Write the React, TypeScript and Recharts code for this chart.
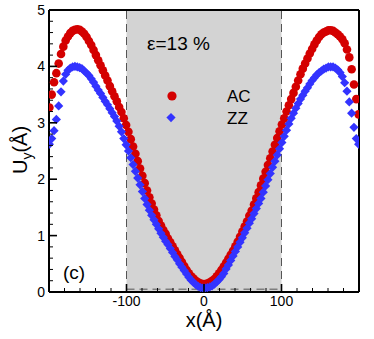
import React from "react";
import {
  ScatterChart,
  Scatter,
  XAxis,
  YAxis,
  ReferenceArea,
  ReferenceLine,
  Legend,
} from "recharts";

// x positions (Å) shared by both series
const xPos = [
  -199.5, -196.5, -193.5, -190.5, -187.5, -184.5, -181.5, -178.5, -175.5, -172.5, -169.5, -166.5, -163.5,
  -160.5, -157.5, -154.5, -151.5, -148.5, -145.5, -142.5, -139.5, -136.5, -133.5, -130.5, -127.5, -124.5,
  -121.5, -118.5, -115.5, -112.5, -109.5, -106.5, -103.5, -100.5, -97.5, -94.5, -91.5, -88.5, -85.5, -82.5,
  -79.5, -76.5, -73.5, -70.5, -67.5, -64.5, -61.5, -58.5, -55.5, -52.5, -49.5, -46.5, -43.5, -40.5, -37.5,
  -34.5, -31.5, -28.5, -25.5, -22.5, -19.5, -16.5, -13.5, -10.5, -7.5, -4.5, -1.5,
  1.5, 4.5, 7.5, 10.5, 13.5, 16.5, 19.5, 22.5, 25.5, 28.5, 31.5, 34.5, 37.5, 40.5, 43.5, 46.5, 49.5, 52.5,
  55.5, 58.5, 61.5, 64.5, 67.5, 70.5, 73.5, 76.5, 79.5, 82.5, 85.5, 88.5, 91.5, 94.5, 97.5, 100.5, 103.5,
  106.5, 109.5, 112.5, 115.5, 118.5, 121.5, 124.5, 127.5, 130.5, 133.5, 136.5, 139.5, 142.5, 145.5, 148.5,
  151.5, 154.5, 157.5, 160.5, 163.5, 166.5, 169.5, 172.5, 175.5, 178.5, 181.5, 184.5, 187.5, 190.5, 193.5,
  196.5, 199.5,
];

// U_y for the armchair (AC) sample
const acY = [
  3.27, 3.5, 3.72, 3.88, 4.05, 4.22, 4.35, 4.46, 4.53, 4.59, 4.63, 4.65, 4.66, 4.65, 4.62, 4.58, 4.52,
  4.45, 4.38, 4.29, 4.2, 4.11, 4.02, 3.93, 3.84, 3.75, 3.65, 3.56, 3.47, 3.38, 3.28, 3.19, 3.08, 2.96,
  2.84, 2.71, 2.58, 2.45, 2.32, 2.19, 2.06, 1.93, 1.8, 1.68, 1.57, 1.46, 1.36, 1.26, 1.18, 1.1, 1.03,
  0.95, 0.88, 0.81, 0.74, 0.67, 0.6, 0.53, 0.46, 0.39, 0.33, 0.28, 0.24, 0.2, 0.17, 0.15, 0.14,
  0.14, 0.15, 0.17, 0.2, 0.23, 0.28, 0.33, 0.39, 0.45, 0.52, 0.59, 0.66, 0.73, 0.81, 0.89, 0.98, 1.07,
  1.16, 1.25, 1.35, 1.44, 1.55, 1.66, 1.77, 1.89, 2.01, 2.13, 2.25, 2.37, 2.49, 2.61, 2.73, 2.85, 2.97,
  3.08, 3.2, 3.31, 3.42, 3.53, 3.64, 3.75, 3.86, 3.96, 4.05, 4.14, 4.23, 4.31, 4.39, 4.46, 4.52, 4.57,
  4.6, 4.62, 4.64, 4.64, 4.63, 4.6, 4.57, 4.53, 4.48, 4.41, 4.3, 4.16, 3.95, 3.68, 3.42, 3.15,
];

// U_y for the zigzag (ZZ) sample
const zzY = [
  2.62, 2.72, 2.86, 3.06, 3.3, 3.55, 3.74, 3.86, 3.93, 3.97, 3.99, 4.0, 3.99, 3.98, 3.96, 3.92, 3.88,
  3.84, 3.78, 3.72, 3.65, 3.58, 3.52, 3.45, 3.38, 3.32, 3.25, 3.18, 3.11, 3.03, 2.94, 2.84, 2.72, 2.61,
  2.5, 2.38, 2.26, 2.14, 2.02, 1.9, 1.78, 1.66, 1.55, 1.45, 1.36, 1.28, 1.2, 1.12, 1.04, 0.97, 0.9,
  0.84, 0.77, 0.7, 0.63, 0.57, 0.5, 0.44, 0.38, 0.32, 0.26, 0.21, 0.17, 0.13, 0.1, 0.08, 0.07,
  0.07, 0.08, 0.09, 0.11, 0.14, 0.18, 0.22, 0.27, 0.33, 0.41, 0.48, 0.56, 0.64, 0.72, 0.8, 0.88, 0.96,
  1.05, 1.13, 1.22, 1.3, 1.39, 1.48, 1.57, 1.66, 1.77, 1.88, 1.99, 2.1, 2.21, 2.32, 2.43, 2.54, 2.65,
  2.76, 2.87, 2.98, 3.08, 3.17, 3.26, 3.34, 3.42, 3.49, 3.56, 3.62, 3.69, 3.75, 3.8, 3.85, 3.89, 3.92,
  3.95, 3.97, 3.99, 3.99, 3.99, 3.97, 3.94, 3.89, 3.82, 3.71, 3.56, 3.37, 3.17, 2.92, 2.72, 2.62,
];

const xTicks = [
  -200, -180, -160, -140, -120, -100, -80, -60, -40, -20, 0, 20, 40, 60, 80, 100, 120, 140, 160, 180, 200,
];
const xLabels = [-100, 0, 100];
const yTicks = [
  0, 0.2, 0.4, 0.6, 0.8, 1, 1.2, 1.4, 1.6, 1.8, 2, 2.2, 2.4, 2.6, 2.8, 3, 3.2, 3.4, 3.6, 3.8, 4, 4.2, 4.4,
  4.6, 4.8, 5,
];
const yLabels = [0, 1, 2, 3, 4, 5];

const acData = xPos.map((x, i) => ({ x, y: acY[i] }));
const zzData = xPos.map((x, i) => ({ x, y: zzY[i] }));

const W = 374;
const H = 339;
const PLOT_LEFT = 49;
const PLOT_BOTTOM = 292;
const FONT = "'Liberation Sans', Arial, Helvetica, sans-serif";
const RED = "#d40000";
const BLUE = "#3333ff";

function XTick(props: any) {
  const { x, y, payload } = props;
  const v = payload.value;
  const major = v % 100 === 0;
  return (
    <g>
      <line
        x1={x}
        x2={x}
        y1={PLOT_BOTTOM}
        y2={PLOT_BOTTOM - (major ? 8 : 4)}
        stroke="#000"
        strokeWidth={major ? 1.6 : 1}
      />
      {xLabels.includes(v) && (
        <text x={x} y={y} dy="0.71em" textAnchor="middle" fontSize={14} fontFamily={FONT} fill="#000">
          {v}
        </text>
      )}
    </g>
  );
}

function YTick(props: any) {
  const { x, y, payload } = props;
  const v = payload.value;
  const major = yLabels.includes(v);
  return (
    <g>
      <line
        x1={PLOT_LEFT}
        x2={PLOT_LEFT + (major ? 8 : 4)}
        y1={y}
        y2={y}
        stroke="#000"
        strokeWidth={major ? 1.6 : 1}
      />
      {major && (
        <text x={x} y={y} dy="0.36em" textAnchor="end" fontSize={14} fontFamily={FONT} fill="#000">
          {v}
        </text>
      )}
    </g>
  );
}

const Dot = (props: any) => <circle cx={props.cx} cy={props.cy} r={4.3} fill={RED} />;

const Diamond = (props: any) => {
  const { cx, cy } = props;
  const d = 4.6;
  return <polygon points={`${cx},${cy - d} ${cx + d},${cy} ${cx},${cy + d} ${cx - d},${cy}`} fill={BLUE} />;
};

function LegendBox(props: any) {
  const payload = props.payload || [];
  return (
    <svg width={110} height={50} style={{ overflow: "visible" }}>
      {payload.map((p: any, i: number) => {
        const cy = 12 + i * 21.6;
        return (
          <g key={p.value}>
            {i === 0 ? (
              <circle cx={12} cy={cy} r={4.6} fill={RED} />
            ) : (
              <polygon points={`11,${cy - 4.6} 15.6,${cy} 11,${cy + 4.6} 6.4,${cy}`} fill={BLUE} />
            )}
            <text x={67} y={cy} dy="0.36em" fontSize={17} fontFamily={FONT} fill="#000">
              {p.value}
            </text>
          </g>
        );
      })}
    </svg>
  );
}

export default function App() {
  return (
    <div style={{ position: "absolute", left: 0, top: 0, width: W, height: H, background: "#fff", fontFamily: FONT }}>
      <ScatterChart width={W} height={H} margin={{ top: 10, right: 15, bottom: 0, left: 0 }}>
        <XAxis
          type="number"
          dataKey="x"
          domain={[-200, 200]}
          ticks={xTicks}
          interval={0}
          height={47}
          tickSize={0}
          tickMargin={4}
          tickLine={false}
          axisLine={{ stroke: "#000", strokeWidth: 2 }}
          tick={<XTick />}
          allowDataOverflow
        />
        <YAxis
          type="number"
          dataKey="y"
          domain={[0, 5]}
          ticks={yTicks}
          interval={0}
          width={49}
          tickSize={0}
          tickMargin={4}
          tickLine={false}
          axisLine={{ stroke: "#000", strokeWidth: 2 }}
          tick={<YTick />}
          allowDataOverflow
        />
        <ReferenceArea x1={-100} x2={100} y1={0} y2={5} fill="#d3d3d3" fillOpacity={1} stroke="none" />
        <ReferenceLine x={-100} stroke="#555" strokeDasharray="8 5" />
        <ReferenceLine x={100} stroke="#555" strokeDasharray="8 5" />
        <ReferenceLine
          segment={[
            { x: -100, y: 0.05 },
            { x: 100, y: 0.05 },
          ]}
          stroke="#555"
          strokeDasharray="8 5"
        />
        <ReferenceLine y={5} stroke="#000" strokeWidth={2} />
        <ReferenceLine x={200} stroke="#000" strokeWidth={2} />
        <Legend
          layout="vertical"
          align="center"
          verticalAlign="middle"
          content={<LegendBox />}
          wrapperStyle={{ left: 160, top: 84, width: 110, height: 50 }}
        />
        <Scatter name="AC" data={acData} fill={RED} shape={Dot} isAnimationActive={false} />
        <Scatter name="ZZ" data={zzData} fill={BLUE} shape={Diamond} isAnimationActive={false} />
      </ScatterChart>
      <svg width={W} height={H} style={{ position: "absolute", left: 0, top: 0, pointerEvents: "none" }}>
        <text x={147} y={50} fontSize={19} fontFamily={FONT} fill="#000">
          ε=13 %
        </text>
        <text x={63} y={279} fontSize={19} fontFamily={FONT} fill="#000">
          (c)
        </text>
        <text x={204} y={327} textAnchor="middle" fontSize={20} fontFamily={FONT} fill="#000">
          x(Å)
        </text>
        <text transform="translate(27,150) rotate(-90)" textAnchor="middle" fontSize={20} fontFamily={FONT} fill="#000">
          U
          <tspan fontSize={14} dy={5}>
            y
          </tspan>
          <tspan dy={-5}>(Å)</tspan>
        </text>
      </svg>
    </div>
  );
}
